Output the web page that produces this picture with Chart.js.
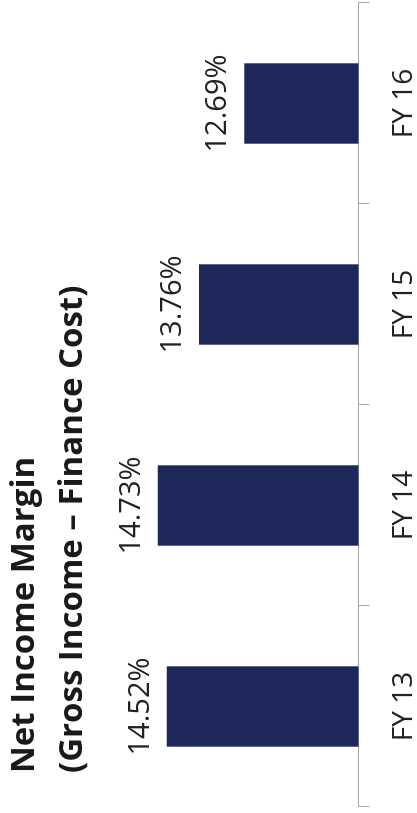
<!DOCTYPE html>
<html>
<head>
<meta charset="utf-8">
<script src="https://cdn.jsdelivr.net/npm/chart.js@4/dist/chart.umd.min.js"></script>
<style>
  html, body { margin: 0; padding: 0; background: #fff; overflow: hidden; }
  /* chart is laid out landscape, then turned a quarter left */
  #wrap {
    position: absolute; left: 0; top: 0;
    width: 813px; height: 417px;
    transform-origin: 0 0;
    transform: translate(0, 813px) rotate(-90deg);
  }
  #title {
    position: absolute; left: 40px; top: -2px;
    font: bold 33px "Open Sans", sans-serif;
    line-height: 48px; color: #1a1a1a; white-space: nowrap;
  }
  canvas { position: absolute; left: 0; top: 0; }
</style>
</head>
<body>
<div id="wrap">
  <canvas id="chart" width="813" height="417"></canvas>
  <div id="title">Net Income Margin<br>(Gross Income – Finance Cost)</div>
</div>
<script>
const years = ['FY 13', 'FY 14', 'FY 15', 'FY 16'];
const margins = [14.52, 14.73, 13.76, 12.69];

const textColor = '#222';

// writes the percentage above each bar
const valueLabels = {
  id: 'valueLabels',
  afterDatasetsDraw(chart) {
    const ctx = chart.ctx;
    const meta = chart.getDatasetMeta(0);
    ctx.save();
    ctx.font = '29px "Open Sans", sans-serif';
    ctx.fillStyle = textColor;
    ctx.textAlign = 'center';
    ctx.textBaseline = 'alphabetic';
    meta.data.forEach((bar, i) => {
      ctx.fillText(margins[i].toFixed(2) + '%', bar.x, bar.y - 18);
    });
    ctx.restore();
  }
};

new Chart(document.getElementById('chart'), {
  type: 'bar',
  data: {
    labels: years,
    datasets: [{
      data: margins,
      backgroundColor: '#1e2759',
      barPercentage: 0.4,
      categoryPercentage: 1
    }]
  },
  options: {
    responsive: false,
    animation: false,
    layout: { padding: { left: 6, right: 3, top: 19, bottom: -22 } },
    plugins: {
      legend: { display: false },
      tooltip: { enabled: false }
    },
    scales: {
      x: {
        grid: {
          drawOnChartArea: false,
          drawTicks: true,
          tickLength: 11,
          color: '#a6a6a6'
        },
        border: { display: true, color: '#a6a6a6', width: 1 },
        ticks: {
          color: textColor,
          padding: 18,
          font: { family: '"Open Sans", sans-serif', size: 28 }
        }
      },
      y: {
        display: false,
        min: 10,
        max: 18
      }
    }
  },
  plugins: [valueLabels]
});
</script>
</body>
</html>
